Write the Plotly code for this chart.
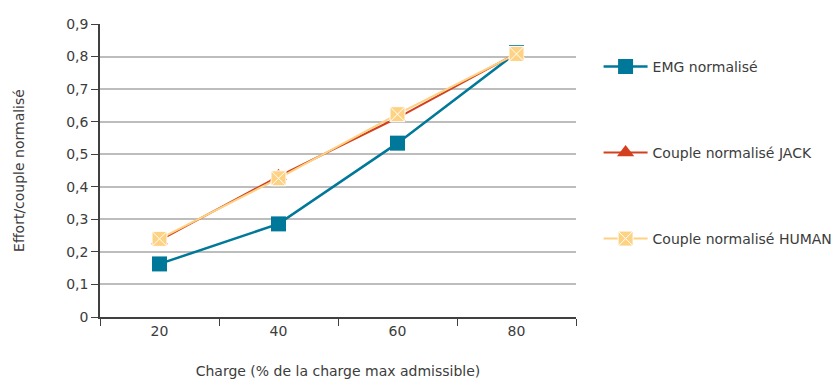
import plotly.graph_objects as go

# Load levels (% of max admissible load)
charge = ["20", "40", "60", "80"]

# Normalised values per series
emg = [0.163, 0.286, 0.534, 0.812]
jack = [0.235, 0.432, 0.612, 0.810]
human = [0.240, 0.426, 0.623, 0.808]

y_ticks = [0, 0.1, 0.2, 0.3, 0.4, 0.5, 0.6, 0.7, 0.8, 0.9]
y_ticktext = ["0", "0,1", "0,2", "0,3", "0,4", "0,5", "0,6", "0,7", "0,8", "0,9"]

TEAL = "#00789A"
RED = "#D2401F"
PEACH = "#FDD283"
TEXT = "#3C3C3C"
FONT = "DejaVu Sans"
FS = 14

fig = go.Figure()

fig.add_trace(go.Scatter(
    x=charge, y=emg, name="EMG normalisé", mode="lines+markers",
    line=dict(color=TEAL, width=2.5),
    marker=dict(symbol="square", size=15, color=TEAL),
    legend="legend", showlegend=True,
))
fig.add_trace(go.Scatter(
    x=charge, y=jack, name="Couple normalisé JACK", mode="lines+markers",
    line=dict(color=RED, width=2),
    marker=dict(symbol="triangle-up", size=15, color=RED),
    legend="legend2", showlegend=True,
))
fig.add_trace(go.Scatter(
    x=charge, y=human, name="Couple normalisé HUMAN", mode="lines+markers",
    line=dict(color=PEACH, width=2),
    marker=dict(symbol="square-x", size=15, color=PEACH,
                line=dict(color="white", width=1)),
    legend="legend3", showlegend=True,
))

legend_common = dict(
    x=0.716, xref="container", xanchor="left",
    yref="container", yanchor="middle",
    bgcolor="rgba(0,0,0,0)", itemwidth=44,
    font=dict(family=FONT, size=FS, color=TEXT),
)

fig.update_layout(
    width=836, height=379,
    margin=dict(l=100, r=260, t=24, b=62, autoexpand=False),
    paper_bgcolor="white", plot_bgcolor="white",
    font=dict(family=FONT, size=FS, color=TEXT),
    showlegend=True,
    legend=dict(y=1 - 67 / 379, **legend_common),
    legend2=dict(y=1 - 153 / 379, **legend_common),
    legend3=dict(y=1 - 239 / 379, **legend_common),
    xaxis=dict(
        type="category", range=[-0.5, 3.5], automargin=False,
        showline=True, linecolor="#404040", linewidth=1.5,
        ticks="outside", tickson="boundaries", ticklen=7,
        tickcolor="#404040", tickwidth=1,
        showgrid=False,
        tickfont=dict(family=FONT, size=FS, color=TEXT),
        title=dict(text="Charge (% de la charge max admissible)",
                   font=dict(family=FONT, size=FS, color=TEXT), standoff=30),
    ),
    yaxis=dict(
        range=[0, 0.9], automargin=False,
        tickvals=y_ticks, ticktext=y_ticktext,
        showline=True, linecolor="#404040", linewidth=1.5,
        ticks="outside", ticklen=7, tickcolor="#404040", tickwidth=1,
        showgrid=True, gridcolor="#BDBDBD", gridwidth=1.5,
        zeroline=False,
        tickfont=dict(family=FONT, size=FS, color=TEXT),
        title=dict(text="Effort/couple normalisé",
                   font=dict(family=FONT, size=FS, color=TEXT), standoff=38),
    ),
)

fig.write_html("out.html")
